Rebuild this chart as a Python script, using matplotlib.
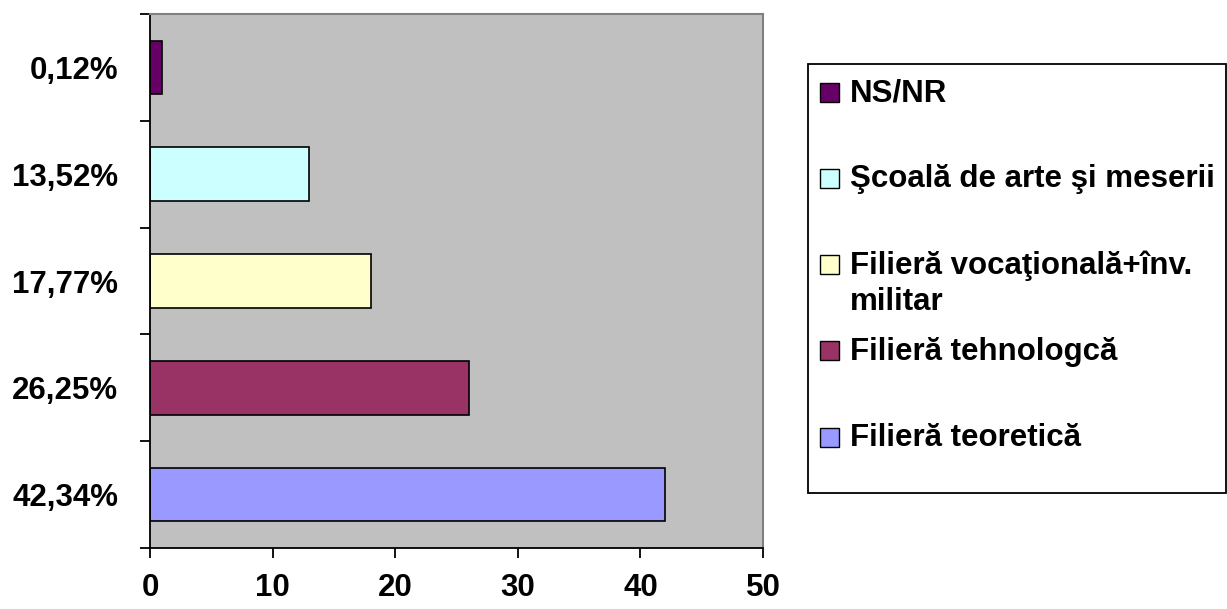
import matplotlib.pyplot as plt
from matplotlib.patches import Rectangle

plt.rcParams['font.family'] = ['Liberation Sans', 'DejaVu Sans']
plt.rcParams['font.weight'] = 'bold'

# data, bottom -> top
pct_labels = ['42,34%', '26,25%', '17,77%', '13,52%', '0,12%']
values = [42, 26, 18, 13, 1]
colors = ['#9999FF', '#993366', '#FFFFCC', '#CCFFFF', '#660066']
series_names = ['Filieră teoretică', 'Filieră tehnologcă',
                'Filieră vocaţională+înv.\nmilitar',
                'Şcoală de arte şi meserii', 'NS/NR']
xticks = [0, 10, 20, 30, 40, 50]

W, H = 1227, 609
fig = plt.figure(figsize=(W / 100, H / 100), dpi=100)
ax = fig.add_axes([150 / W, 1 - 548 / H, 613 / W, 534 / H])
ax.set_facecolor('#C0C0C0')

ypos = list(range(len(values)))
ax.barh(ypos, values, height=0.5, color=colors, edgecolor='black', linewidth=1.2)

ax.set_xlim(0, 50)
ax.set_ylim(-0.5, len(values) - 0.5)
ax.set_xticks(xticks)
ax.set_xticklabels([str(t) for t in xticks], fontsize=22.5, fontweight='bold')
ax.tick_params(axis='x', length=7, width=1.3, pad=11, direction='out')

ax.set_yticks([i - 0.5 for i in range(len(values) + 1)])
ax.set_yticklabels([])
ax.tick_params(axis='y', which='major', length=7, width=1.3, direction='out')
ax.set_yticks(ypos, minor=True)
ax.set_yticklabels(pct_labels, minor=True, fontsize=22.5, fontweight='bold')
ax.tick_params(axis='y', which='minor', length=0, pad=23)

ax.spines['left'].set_linewidth(1.3)
ax.spines['bottom'].set_linewidth(1.3)
for s in ['top', 'right']:
    ax.spines[s].set_color('#808080')
    ax.spines[s].set_linewidth(1.5)

# legend (drawn by hand: top entry first, equal slots)
fig.patches.append(Rectangle((808 / W, 1 - 493 / H), 418 / W, 429 / H,
                             transform=fig.transFigure, fill=False,
                             edgecolor='black', linewidth=1.3))
step = 86.25
for i, (name, c) in enumerate(zip(series_names[::-1], colors[::-1])):
    yc = 92 + i * step
    fig.patches.append(Rectangle((820 / W, 1 - (yc + 9.5) / H), 19 / W, 19 / H,
                                 transform=fig.transFigure, facecolor=c,
                                 edgecolor='black', linewidth=1.0))
    for k, line in enumerate(name.split('\n')):
        fig.text(850 / W, 1 - (yc + 1 + k * 37) / H, line, fontsize=22.5,
                 fontweight='bold', va='center', ha='left')

fig.savefig('out.png', dpi=100)
